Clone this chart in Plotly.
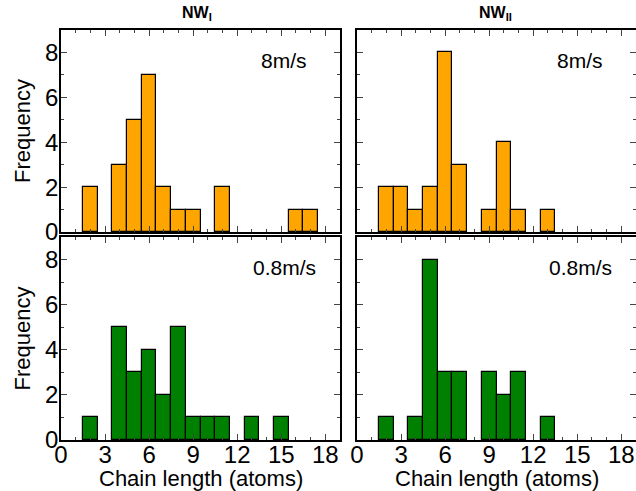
import plotly.graph_objects as go

lengths = list(range(1, 19))
nw1_fast = [0, 2, 0, 3, 5, 7, 2, 1, 1, 0, 2, 0, 0, 0, 0, 1, 1, 0]
nw2_fast = [0, 2, 2, 1, 2, 8, 3, 0, 1, 4, 1, 0, 1, 0, 0, 0, 0, 0]
nw1_slow = [0, 1, 0, 5, 3, 4, 2, 5, 1, 1, 1, 0, 1, 0, 1, 0, 0, 0]
nw2_slow = [0, 1, 0, 1, 8, 3, 3, 0, 3, 2, 3, 0, 1, 0, 0, 0, 0, 0]

col_titles = ["<b>NW<sub>I</sub></b>", "<b>NW<sub>II</sub></b>"]
speed_labels = ["8m/s", "0.8m/s"]
x_title = "Chain length (atoms)"
y_title = "Frequency"
x_ticks = [0, 3, 6, 9, 12, 15, 18]
y_ticks = [0, 2, 4, 6, 8]

ORANGE = "#FFA500"
GREEN = "#008000"
FONT = "Liberation Sans, Arial, sans-serif"

W, H = 636, 491
ml, mr, mt, mb = 61, 0, 30, 51
pw, ph = W - ml - mr, H - mt - mb

def px_x(a, b):
    return [(a - ml) / pw, (b - ml) / pw]

def px_y(top, bottom):
    return [(H - mb - bottom) / ph, (H - mb - top) / ph]

def paper_x(p):
    return (p - ml) / pw

def paper_y(p):
    return (H - mb - p) / ph

xdom = [px_x(61, 340), px_x(357, 636)]
ydom = [px_y(30, 232), px_y(237, 440)]

panels = [
    (0, 0, nw1_fast, ORANGE),
    (0, 1, nw2_fast, ORANGE),
    (1, 0, nw1_slow, GREEN),
    (1, 1, nw2_slow, GREEN),
]

fig = go.Figure()
layout = {}
annotations = []
for i, (r, c, vals, color) in enumerate(panels):
    n = i + 1
    xa = "x" if n == 1 else f"x{n}"
    ya = "y" if n == 1 else f"y{n}"
    xs = [l for l, v in zip(lengths, vals) if v > 0]
    ys = [v for v in vals if v > 0]
    fig.add_trace(go.Bar(
        x=xs, y=ys, width=1, xaxis=xa, yaxis=ya,
        marker=dict(color=color, line=dict(color="black", width=1.2)),
        showlegend=False,
    ))
    xkey = "xaxis" if n == 1 else f"xaxis{n}"
    ykey = "yaxis" if n == 1 else f"yaxis{n}"
    layout[xkey] = dict(
        domain=xdom[c], anchor=ya, range=[0, 19],
        tickvals=x_ticks, ticktext=[str(t) for t in x_ticks],
        showticklabels=(r == 1),
        ticks="inside", ticklen=6, tickwidth=1.2, tickcolor="#444",
        minor=dict(ticks="inside", ticklen=3, dtick=1, tick0=0, tickwidth=1, tickcolor="#444"),
        showline=True, linecolor="black", linewidth=1.5, mirror="ticks",
        showgrid=False, zeroline=False,
        tickfont=dict(family=FONT, size=24, color="black"),
        ticklabelstandoff=-8,
        fixedrange=True,
    )
    layout[ykey] = dict(
        domain=ydom[r], anchor=xa, range=[0, 9],
        tickvals=y_ticks, ticktext=[str(t) for t in y_ticks],
        showticklabels=(c == 0),
        ticks="inside", ticklen=6, tickwidth=1.2, tickcolor="#444",
        minor=dict(ticks="inside", ticklen=3, dtick=1, tick0=0, tickwidth=1, tickcolor="#444"),
        showline=True, linecolor="black", linewidth=1.5, mirror="ticks",
        showgrid=False, zeroline=False,
        tickfont=dict(family=FONT, size=24, color="black"),
        ticklabelstandoff=-4,
        fixedrange=True,
    )
    annotations.append(dict(
        text=speed_labels[r], x=15.2, y=7.65, xref=xa, yref=ya,
        xanchor="center", yanchor="middle", showarrow=False,
        font=dict(family=FONT, size=21, color="black"),
    ))

title_x = [197, 495]
for c in range(2):
    annotations.append(dict(
        text=col_titles[c], x=paper_x(title_x[c]), y=paper_y(14), xref="paper", yref="paper",
        xanchor="center", yanchor="middle", showarrow=False,
        font=dict(family=FONT, size=16, color="black"),
    ))

xtitle_x = [201, 497]
for c in range(2):
    annotations.append(dict(
        text=x_title, x=paper_x(xtitle_x[c]), y=paper_y(478), xref="paper", yref="paper",
        xanchor="center", yanchor="middle", showarrow=False,
        font=dict(family=FONT, size=22, color="black"),
    ))

for r in range(2):
    annotations.append(dict(
        text=y_title, x=paper_x(22), y=sum(ydom[r]) / 2, xref="paper", yref="paper",
        xanchor="center", yanchor="middle", textangle=-90, showarrow=False,
        font=dict(family=FONT, size=22, color="black"),
    ))

fig.update_layout(
    width=W, height=H,
    margin=dict(l=ml, r=mr, t=mt, b=mb, autoexpand=False),
    paper_bgcolor="white", plot_bgcolor="white",
    bargap=0, annotations=annotations,
    **layout,
)

fig.write_html("out.html")
